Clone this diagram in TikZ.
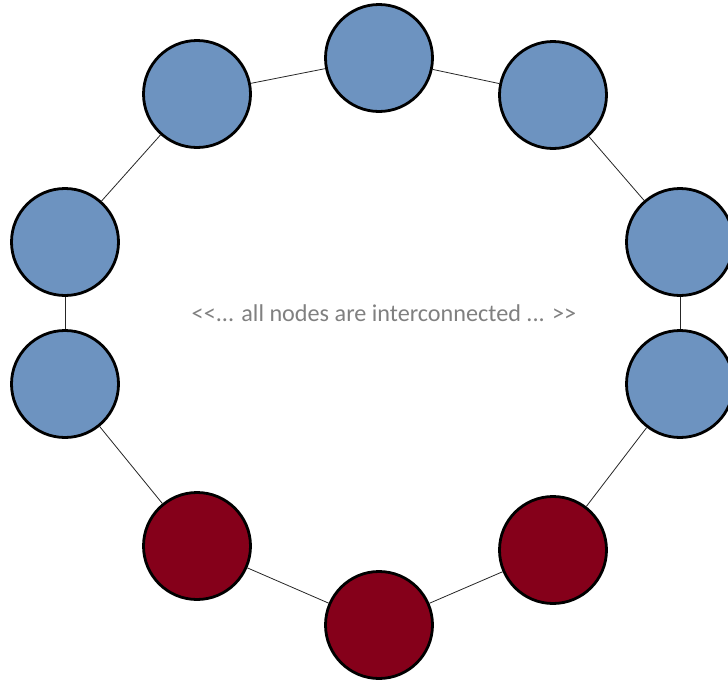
\documentclass[tikz,border=0pt]{standalone}
\usepackage{fontspec}
\setmainfont{Carlito}[Ligatures=TeXOff]
\usepackage{tikz}
\definecolor{peer}{HTML}{6D93C0}
\definecolor{hub}{HTML}{85001A}
\definecolor{note}{HTML}{808080}

\begin{document}
\begin{tikzpicture}[x=1pt, y=-1pt,
  peer/.style={circle, draw=black, line width=2.8pt, fill=peer, minimum size=107pt, inner sep=0},
  hub/.style={peer, fill=hub},
  link/.style={line width=0.8pt, draw=black!85},
  lab/.style={font=\fontsize{24.2}{29}\selectfont, text=note}]
\useasboundingbox (0,0) rectangle (728,683);
% ring of nodes, clockwise from the top
\foreach \n/\x/\y/\s in {n1/379/58/peer, n2/553/95/peer, n3/680/242/peer, n4/680/384/peer,
                         n5/553/550/hub, n6/379/625/hub, n7/197/546/hub, n8/65/384/peer,
                         n9/65/242/peer, n10/197/94/peer}
  \node[\s] (\n) at (\x, \y) {};
\node[lab] (txt) at (384, 313) {<<... all nodes are interconnected ... >>};
\foreach \a/\b in {n1/n2, n2/n3, n3/n4, n4/n5, n5/n6, n6/n7, n7/n8, n8/n9, n9/n10, n10/n1}
  \draw[link] (\a) -- (\b);
\end{tikzpicture}
\end{document}
